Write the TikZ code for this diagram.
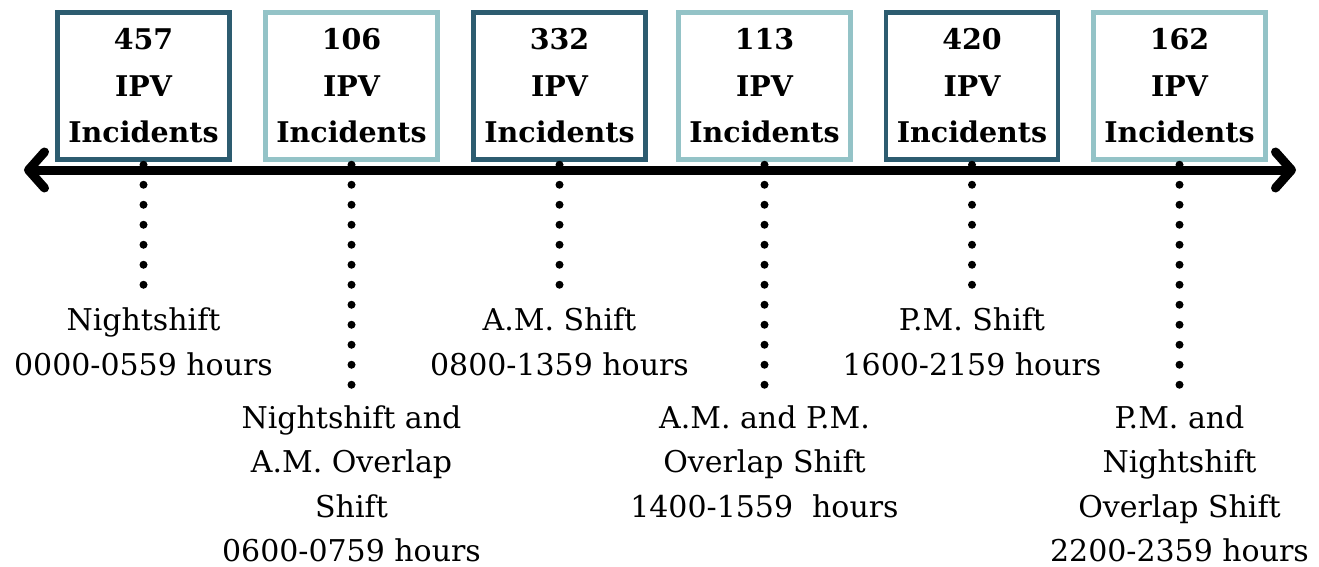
\documentclass[tikz,border=0pt]{standalone}
\usepackage{fontspec}
\setmainfont{DejaVu Serif}
\usetikzlibrary{arrows.meta}
\definecolor{darkbd}{RGB}{45,92,112}
\definecolor{lightbd}{RGB}{148,195,199}
\tikzset{
  box/.style={draw, line width=4.5pt, minimum width=172pt, minimum height=147pt,
    inner sep=0pt, align=center, font=\fontsize{28.5}{46.5}\selectfont\bfseries, fill=white},
  darkbox/.style={box, draw=darkbd},
  lightbox/.style={box, draw=lightbd},
  lbl/.style={align=center, anchor=base, inner sep=0pt, font=\fontsize{30}{44.5}\selectfont},
  dotline/.style={line width=8pt, line cap=round, dash pattern=on 0pt off 20pt},
  timeline/.style={line width=9pt, {Straight Barb[length=16pt 0, width=36pt 0, line cap=round, line join=round]}-{Straight Barb[length=16pt 0, width=36pt 0, line cap=round, line join=round]}}
}
\begin{document}
\begin{tikzpicture}[x=1pt,y=-1pt]
\useasboundingbox (0,0) rectangle (1319,567);
% boxes
\node[darkbox]  (b1) at (143.5,86) {457\\IPV\\Incidents};
\node[lightbox] (b2) at (351.5,86) {106\\IPV\\Incidents};
\node[darkbox]  (b3) at (559.5,86) {332\\IPV\\Incidents};
\node[lightbox] (b4) at (764.5,86) {113\\IPV\\Incidents};
\node[darkbox]  (b5) at (972,86) {420\\IPV\\Incidents};
\node[lightbox] (b6) at (1179.5,86) {162\\IPV\\Incidents};
% dotted leaders
\coordinate (e1) at (143.5,297);
\coordinate (e2) at (351.5,397);
\coordinate (e3) at (559.5,297);
\coordinate (e4) at (764.5,397);
\coordinate (e5) at (972,297);
\coordinate (e6) at (1179.5,397);
\foreach \i in {1,...,6}{
  \draw[dotline] ([yshift=-3pt]b\i.south) -- (e\i);
}
% timeline
\coordinate (L) at (24,170);
\coordinate (R) at (1296,170);
\draw[timeline] (L) -- (R);
% labels (anchor base = baseline of last line)
\node[lbl] (t1) at (143.5,375) {Nightshift\\0000-0559 hours};
\node[lbl] (t2) at (351.5,561.5) {Nightshift and\\A.M. Overlap\\Shift\\0600-0759 hours};
\node[lbl] (t3) at (559.5,375) {A.M. Shift\\0800-1359 hours};
\node[lbl] (t4) at (764.5,517) {A.M. and P.M.\\Overlap Shift\\1400-1559\ \ hours};
\node[lbl] (t5) at (972,375) {P.M. Shift\\1600-2159 hours};
\node[lbl] (t6) at (1179.5,561.5) {P.M. and\\Nightshift\\Overlap Shift\\2200-2359 hours};
\end{tikzpicture}
\end{document}
